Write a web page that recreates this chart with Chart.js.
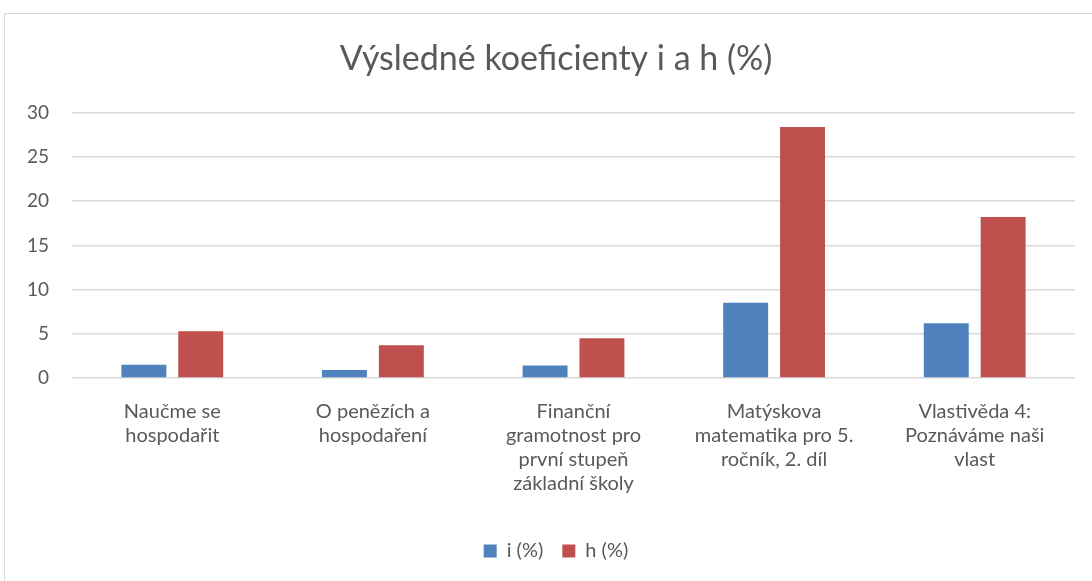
<!DOCTYPE html>
<html>
<head>
<meta charset="utf-8">
<script src="https://cdn.jsdelivr.net/npm/chart.js@4"></script>
<style>
  body { margin: 0; background: #fff; overflow: hidden; }
  #box {
    position: absolute; left: 4px; top: 13px;
    width: 1104px; height: 580px;
    border: 1px solid #d9d9d9; background: #fff;
  }
</style>
</head>
<body>
<div id="box"><canvas id="chart-1" width="1104" height="567"></canvas></div>
<script>
var categories = [
  ["Naučme se", "hospodařit"],
  ["O penězích a", "hospodaření"],
  ["Finanční", "gramotnost pro", "první stupeň", "základní školy"],
  ["Matýskova", "matematika pro 5.", "ročník, 2. díl"],
  ["Vlastivěda 4:", "Poznáváme naši", "vlast"]
];
var iValues = [1.5, 0.9, 1.4, 8.5, 6.2];
var hValues = [5.3, 3.7, 4.5, 28.4, 18.2];
var yTicks = [0, 5, 10, 15, 20, 25, 30];

var font = "Lato, 'Open Sans', sans-serif";
var textColor = "#595959";

var ctx = document.getElementById("chart-1").getContext("2d");
var myChart = new Chart(ctx, {
  type: "bar",
  data: {
    labels: categories,
    datasets: [
      { label: "i (%)", data: iValues, backgroundColor: "#4f81bd" },
      { label: "h (%)", data: hValues, backgroundColor: "#c0504d" }
    ]
  },
  options: {
    responsive: false,
    animation: false,
    categoryPercentage: 0.567,
    barPercentage: 0.79,
    layout: { padding: { left: 0, right: 2, top: 0, bottom: 10 } },
    plugins: {
      title: {
        display: true,
        text: "Výsledné koeficienty i a h (%)",
        color: textColor,
        font: { family: font, size: 34, weight: "normal" },
        padding: { top: 25, bottom: 33 }
      },
      legend: {
        position: "bottom",
        labels: {
          color: textColor,
          font: { family: font, size: 20 },
          boxWidth: 13,
          boxHeight: 13,
          padding: 19
        }
      },
      tooltip: { enabled: false }
    },
    scales: {
      x: {
        grid: { display: false },
        border: { display: false },
        ticks: {
          color: textColor,
          font: { family: font, size: 20, lineHeight: 1.2 },
          maxRotation: 0,
          autoSkip: false,
          padding: 14
        },
        afterFit: function (scale) { scale.height = 144; }
      },
      y: {
        min: 0,
        max: 30,
        afterBuildTicks: function (scale) {
          scale.ticks = yTicks.map(function (v) { return { value: v }; });
        },
        grid: { color: "#d9d9d9", lineWidth: 1.5, drawTicks: false },
        border: { display: false },
        ticks: {
          color: textColor,
          font: { family: font, size: 19 },
          padding: 23
        },
        afterFit: function (scale) { scale.width = 67; }
      },
      // empty right axis, just a margin on the right of the plot
      yRight: {
        position: "right",
        grid: { display: false },
        border: { display: false },
        ticks: { display: false },
        afterFit: function (scale) { scale.width = 32; }
      }
    }
  }
});
</script>
</body>
</html>
